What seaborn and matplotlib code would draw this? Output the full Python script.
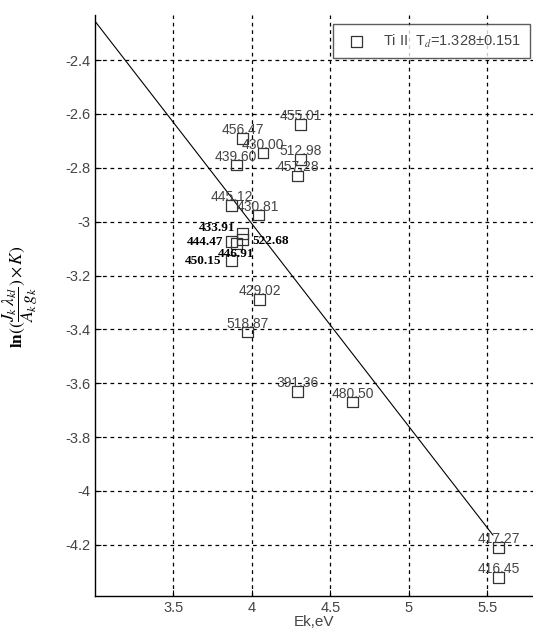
import numpy as np
import pandas as pd
import matplotlib
matplotlib.use("Agg")
import matplotlib.pyplot as plt
import seaborn as sns

# line wavelengths (nm), upper level energy (eV) and Boltzmann-plot ordinate
wavelengths = ["455.01", "456.47", "430.00", "512.98", "439.60", "457.28",
               "445.12", "430.81", "433.91", "522.68", "444.47", "446.91",
               "450.15", "429.02", "518.87", "391.36", "480.50", "417.27",
               "416.45"]
ek = [4.31, 3.94, 4.07, 4.31, 3.90, 4.29,
      3.87, 4.04, 3.94, 3.94, 3.87, 3.90,
      3.87, 4.05, 3.97, 4.29, 4.64, 5.57,
      5.57]
ln_val = [-2.64, -2.69, -2.745, -2.77, -2.79, -2.83,
          -2.94, -2.975, -3.045, -3.065, -3.075, -3.08,
          -3.145, -3.29, -3.41, -3.63, -3.67, -4.21,
          -4.32]
bold_lines = ["433.91", "522.68", "444.47", "446.91", "450.15"]

# fitted line
fit_x = [3.0, 5.535]
t_d = 1.328
t_err = 0.151
fit_y0 = -2.255

df = pd.DataFrame({"ek": ek, "ln": ln_val, "wl": wavelengths})
fit = pd.DataFrame({"ek": fit_x,
                    "ln": [fit_y0 - (x - fit_x[0]) / t_d for x in fit_x]})

# label offsets in points (ha, va, dx, dy)
label_style = {
    "433.91": ("right", "center", -5, 4),
    "522.68": ("left", "center", 7, -1),
    "444.47": ("right", "center", -6, 0),
    "446.91": ("center", "center", 0, -8),
    "450.15": ("right", "center", -7, 0),
}

sns.set_style("white")
plt.rcParams["font.family"] = ["Liberation Sans", "DejaVu Sans"]
plt.rcParams["mathtext.fontset"] = "stix"

fig = plt.figure(figsize=(5.33, 6.30), dpi=100)
ax = fig.add_axes([0.178, 0.054, 0.822, 0.922])

sns.lineplot(data=fit, x="ek", y="ln", color="black", linewidth=0.8, ax=ax)
sns.scatterplot(data=df, x="ek", y="ln", marker="s", s=60,
                facecolor="none", edgecolor="#333333", linewidth=0.9,
                ax=ax, label=f"Ti II  T$_d$={t_d:.3f}\u00b1{t_err:.3f}",
                zorder=3)

for _, r in df.iterrows():
    if r["wl"] in bold_lines:
        ha, va, dx, dy = label_style[r["wl"]]
        ax.annotate(r["wl"], (r["ek"], r["ln"]), xytext=(dx, dy),
                    textcoords="offset points", ha=ha, va=va,
                    fontsize=9.5, fontweight="bold", color="black",
                    family="Liberation Serif")
    else:
        ax.annotate(r["wl"], (r["ek"], r["ln"]), xytext=(0, 1),
                    textcoords="offset points", ha="center", va="bottom",
                    fontsize=10, color="#444444")

ax.set_xlim(3.0, 5.79)
ax.set_ylim(-4.39, -2.233)
ax.set_xticks([3.5, 4, 4.5, 5, 5.5])
ax.set_xticklabels(["3.5", "4", "4.5", "5", "5.5"])
ax.set_yticks([-2.4, -2.6, -2.8, -3, -3.2, -3.4, -3.6, -3.8, -4, -4.2])
ax.set_yticklabels(["-2.4", "-2.6", "-2.8", "-3", "-3.2", "-3.4", "-3.6",
                    "-3.8", "-4", "-4.2"])
ax.tick_params(direction="in", length=4, width=0.8, colors="black",
               labelcolor="#444444", labelsize=10.5, left=True, bottom=True)
ax.grid(True, color="black", linestyle=(0, (3, 3)), linewidth=0.9)
for side in ["top", "right"]:
    ax.spines[side].set_visible(False)
for side in ["left", "bottom"]:
    ax.spines[side].set_color("black")
    ax.spines[side].set_linewidth(1.0)

ax.set_xlabel("Ek,eV", fontsize=11, color="#444444", labelpad=0)
ax.set_ylabel(r"$\mathbf{ln}((\dfrac{J_k\,\lambda_{kl}}{A_k\,g_k})\times K)$",
              fontsize=12.5, color="black")
ax.yaxis.set_label_coords(-0.125, 0.515)

leg = ax.legend(loc="upper right", bbox_to_anchor=(0.993, 0.985),
                fontsize=10.5, frameon=True, fancybox=False,
                borderpad=0.6, handletextpad=0.8, borderaxespad=0)
leg.get_frame().set_edgecolor("#333333")
leg.get_frame().set_linewidth(1.0)
for t in leg.get_texts():
    t.set_color("#444444")

fig.savefig("out.png", dpi=100)
